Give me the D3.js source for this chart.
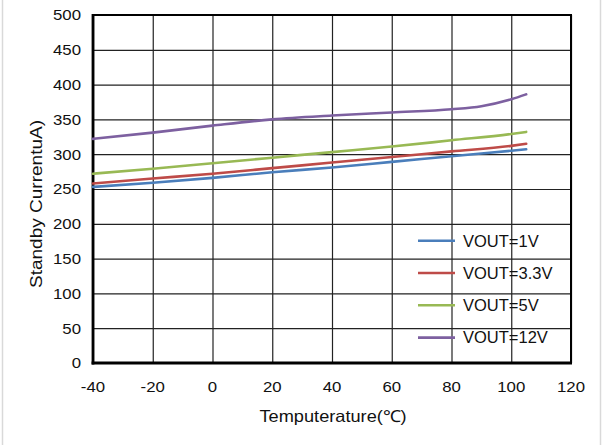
<!DOCTYPE html>
<html><head><meta charset="utf-8">
<script src="https://cdn.jsdelivr.net/npm/d3@7"></script>
<style>
html,body{margin:0;padding:0;background:#fff;}
svg{display:block;font-family:Arial,"Liberation Sans",sans-serif;}
</style></head>
<body>
<svg id="chart" width="604" height="445"></svg>
<script>
const xTicks = [-40,-20,0,20,40,60,80,100,120];
const yTicks = [0,50,100,150,200,250,300,350,400,450,500];
const seriesNames = ["VOUT=1V","VOUT=3.3V","VOUT=5V","VOUT=12V"];
const seriesColors = ["#4a7ebb","#be4b48","#98b954","#7d60a0"];
const tempsLin = [-40,-20,0,20,40,60,80,100,105];
const vout1 = [253,259,266,274,281,289,297,305,307];
const vout33 = [258,265,272,280,288,296,304,312,315];
const vout5 = [272,279,287,295,303,311,320,329,332];
const temps12 = [-40,-20,0,20,40,60,80,90,100,105];
const vout12 = [322,331,341,350,355.5,360,364.5,369,379,386];

const seriesX = [tempsLin,tempsLin,tempsLin,temps12];
const seriesY = [vout1,vout33,vout5,vout12];

const svg = d3.select("#chart");
const L=93,R=571,T=15,B=363;
const x = d3.scaleLinear().domain([-40,120]).range([L,R]);
const y = d3.scaleLinear().domain([0,500]).range([B,T]);

// outer frame
svg.append("line").attr("x1",2.5).attr("x2",2.5).attr("y1",0).attr("y2",445).attr("stroke","#d9d9d9").attr("stroke-width",1.5);
svg.append("line").attr("x1",600.5).attr("x2",600.5).attr("y1",0).attr("y2",445).attr("stroke","#d9d9d9").attr("stroke-width",1.5);

// grid
const gx = svg.append("g").attr("transform",`translate(0,${B})`)
  .call(d3.axisBottom(x).tickValues(xTicks).tickSize(-(B-T)).tickFormat(""));
gx.select(".domain").remove();
gx.selectAll(".tick line").attr("stroke","#222").attr("stroke-width",1.2);
const gy = svg.append("g").attr("transform",`translate(${L},0)`)
  .call(d3.axisLeft(y).tickValues(yTicks).tickSize(-(R-L)).tickFormat(""));
gy.select(".domain").remove();
gy.selectAll(".tick line").attr("stroke","#222").attr("stroke-width",1.2);

// border
svg.append("rect").attr("x",L).attr("y",T).attr("width",R-L).attr("height",B-T)
  .attr("fill","none").attr("stroke","#000").attr("stroke-width",2);
svg.append("line").attr("x1",L).attr("x2",L).attr("y1",T-1).attr("y2",B+1.5).attr("stroke","#000").attr("stroke-width",2.8);
svg.append("line").attr("x1",L-1.4).attr("x2",R+1).attr("y1",B).attr("y2",B).attr("stroke","#000").attr("stroke-width",2.8);

// tick labels
const sx = 1.12;
svg.append("g").selectAll("text").data(yTicks).join("text")
  .attr("transform",d=>`translate(81,${y(d)+5.3}) scale(${sx},1)`)
  .attr("text-anchor","end").attr("font-size",15).attr("fill","#111").text(d=>d);
svg.append("g").selectAll("text").data(xTicks).join("text")
  .attr("transform",d=>`translate(${x(d)},392) scale(${sx},1)`)
  .attr("text-anchor","middle").attr("font-size",15).attr("fill","#111").text(d=>d);

// titles
svg.append("text").attr("x",333).attr("y",422).attr("text-anchor","middle")
  .attr("font-size",16.5).attr("fill","#111").attr("textLength",147).attr("lengthAdjust","spacingAndGlyphs")
  .text("Temputerature(℃)");
svg.append("text").attr("transform","translate(41.5,204) rotate(-90)").attr("text-anchor","middle")
  .attr("font-size",16.5).attr("fill","#111").attr("textLength",168).attr("lengthAdjust","spacingAndGlyphs")
  .text("Standby CurrentuA)");

// lines
const line = d3.line().x(d=>x(d[0])).y(d=>y(d[1])).curve(d3.curveMonotoneX);
seriesNames.forEach((n,i)=>{
  const pts = seriesX[i].map((t,j)=>[t,seriesY[i][j]]);
  svg.append("path").datum(pts).attr("d",line).attr("fill","none")
    .attr("stroke",seriesColors[i]).attr("stroke-width",2.6).attr("stroke-linecap","round");
});

// legend
const lg = svg.append("g");
seriesNames.forEach((n,i)=>{
  const yy = 240.7 + i*32.3;
  lg.append("line").attr("x1",418).attr("x2",455).attr("y1",yy).attr("y2",yy)
    .attr("stroke",seriesColors[i]).attr("stroke-width",2.6);
  lg.append("text").attr("x",463).attr("y",yy+5.8).attr("font-size",16.5).attr("fill","#111").text(n);
});
</script>
</body></html>
